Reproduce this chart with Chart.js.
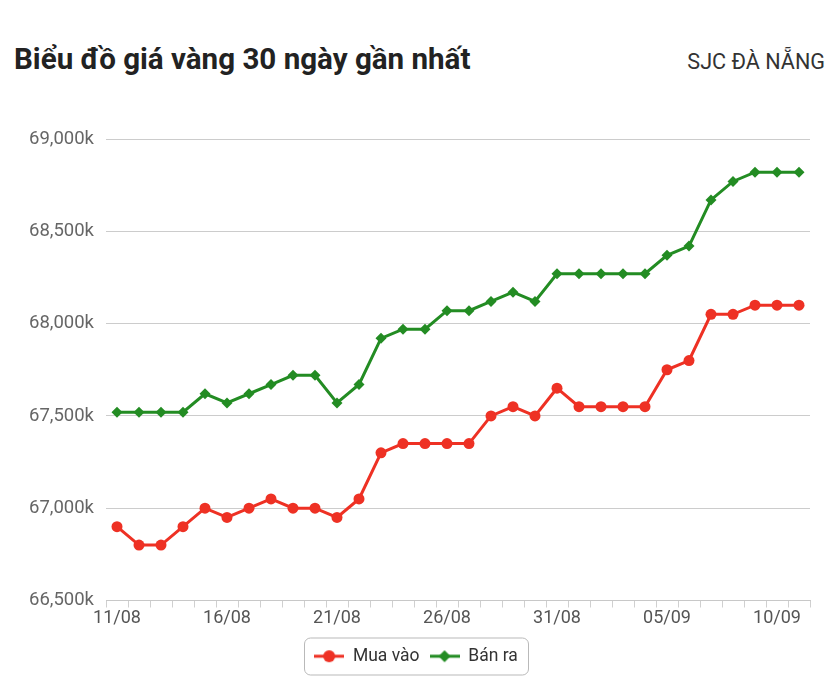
<!DOCTYPE html>
<html>
<head>
<meta charset="utf-8">
<script src="https://cdn.jsdelivr.net/npm/chart.js@4/dist/chart.umd.min.js"></script>
<style>
  html, body { margin: 0; padding: 0; background: #fff; }
  #wrap { position: relative; width: 832px; height: 697px; }
  #title { position: absolute; left: 14px; top: 41px; font-family: Roboto, sans-serif; font-weight: 700; font-size: 30px; line-height: normal; color: #222; white-space: nowrap; transform-origin: left top; transform: scaleX(0.985); }
  #sub { position: absolute; right: 7px; top: 49px; font-family: Roboto, sans-serif; font-weight: 400; font-size: 21.6px; line-height: normal; color: #333; white-space: nowrap; }
  canvas { position: absolute; left: 0; top: 0; }
</style>
</head>
<body>
<div id="wrap">
  <div id="title">Biểu đồ giá vàng 30 ngày gần nhất</div>
  <div id="sub">SJC ĐÀ NẴNG</div>
  <canvas id="c" width="832" height="697"></canvas>
</div>
<script>
const dates = ["11/08","12/08","13/08","14/08","15/08","16/08","17/08","18/08","19/08","20/08","21/08","22/08","23/08","24/08","25/08","26/08","27/08","28/08","29/08","30/08","31/08","01/09","02/09","03/09","04/09","05/09","06/09","07/09","08/09","09/09","10/09","11/09"];
const muaVao = [66900,66800,66800,66900,67000,66950,67000,67050,67000,67000,66950,67050,67300,67350,67350,67350,67350,67500,67550,67500,67650,67550,67550,67550,67550,67750,67800,68050,68050,68100,68100,68100];
const banRa = [67520,67520,67520,67520,67620,67570,67620,67670,67720,67720,67570,67670,67920,67970,67970,68070,68070,68120,68170,68120,68270,68270,68270,68270,68270,68370,68420,68670,68770,68820,68820,68820];
const yTicks = [66500,67000,67500,68000,68500,69000];
const seriesNames = ["Mua vào","Bán ra"];

const RED = "#ee3124";
const GREEN = "#238c23";

function legendIcon(color, style) {
  const c = document.createElement("canvas");
  c.width = 30; c.height = 14;
  const g = c.getContext("2d");
  g.strokeStyle = color; g.lineWidth = 3;
  g.beginPath(); g.moveTo(0, 7); g.lineTo(30, 7); g.stroke();
  g.fillStyle = color;
  g.beginPath();
  if (style === "circle") { g.arc(15, 7, 6, 0, Math.PI * 2); }
  else { g.moveTo(15, 1); g.lineTo(21, 7); g.lineTo(15, 13); g.lineTo(9, 7); g.closePath(); }
  g.fill();
  return c;
}
const icons = [legendIcon(RED, "circle"), legendIcon(GREEN, "diamond")];

const legendBorder = {
  id: "legendBorder",
  afterDraw(chart) {
    const lg = chart.legend;
    if (!lg || !lg.legendHitBoxes || !lg.legendHitBoxes.length) return;
    const hb = lg.legendHitBoxes;
    let l = Infinity, r = -Infinity;
    hb.forEach(b => { l = Math.min(l, b.left); r = Math.max(r, b.left + b.width); });
    const ctx = chart.ctx;
    const x = l - 10, w = r - l + 20, y = lg.top + 0.5, h = lg.height - 1;
    ctx.save();
    ctx.strokeStyle = "#b9b9b9"; ctx.lineWidth = 1;
    ctx.beginPath();
    ctx.roundRect(Math.round(x) + 0.5, Math.round(y), Math.round(w), Math.round(h), 6);
    ctx.stroke();
    ctx.restore();
  }
};

new Chart(document.getElementById("c"), {
  type: "line",
  data: {
    labels: dates,
    datasets: [
      { label: seriesNames[0], data: muaVao, borderColor: RED, backgroundColor: RED, borderWidth: 3, pointStyle: "circle", pointRadius: 5.5, pointHoverRadius: 5.5, pointBorderWidth: 0, tension: 0 },
      { label: seriesNames[1], data: banRa, borderColor: GREEN, backgroundColor: GREEN, borderWidth: 3, pointStyle: "rectRot", pointRadius: 5.5, pointHoverRadius: 5.5, pointBorderWidth: 0, tension: 0 }
    ]
  },
  options: {
    responsive: false,
    animation: false,
    layout: { padding: { top: 139, left: 22, right: 22, bottom: 22 } },
    scales: {
      x: {
        type: "category",
        offset: true,
        grid: { offset: true, drawOnChartArea: false, drawTicks: true, tickLength: 7, color: "#d0d0d0" },
        border: { display: true, color: "#c8c8c8", width: 1 },
        ticks: {
          autoSkip: false, maxRotation: 0, padding: 0,
          color: "#555",
          font: { family: "Roboto", size: 18 },
          callback: (v, i) => (i % 5 === 0 ? dates[i] : "")
        },
        afterFit: s => { s.height = 37; }
      },
      y: {
        min: yTicks[0], max: yTicks[yTicks.length - 1],
        afterBuildTicks: s => { s.ticks = yTicks.map(v => ({ value: v })); },
        grid: { drawTicks: false, color: "#cccccc", lineWidth: 1 },
        border: { display: false },
        ticks: {
          padding: 12, color: "#666",
          font: { family: "Roboto", size: 18.5 },
          callback: v => v.toLocaleString("en-US") + "k"
        },
        afterFit: s => { s.width = 84; }
      }
    },
    plugins: {
      title: { display: false },
      tooltip: { enabled: false },
      legend: {
        display: true, position: "bottom",
        labels: {
          usePointStyle: true, pointStyleWidth: 30, boxHeight: 14, padding: 10,
          color: "#333", font: { family: "Roboto", size: 17.5 },
          generateLabels: chart => Chart.defaults.plugins.legend.labels.generateLabels(chart).map((it, i) => Object.assign(it, { pointStyle: icons[i] }))
        }
      }
    }
  },
  plugins: [legendBorder]
});
</script>
</body>
</html>
